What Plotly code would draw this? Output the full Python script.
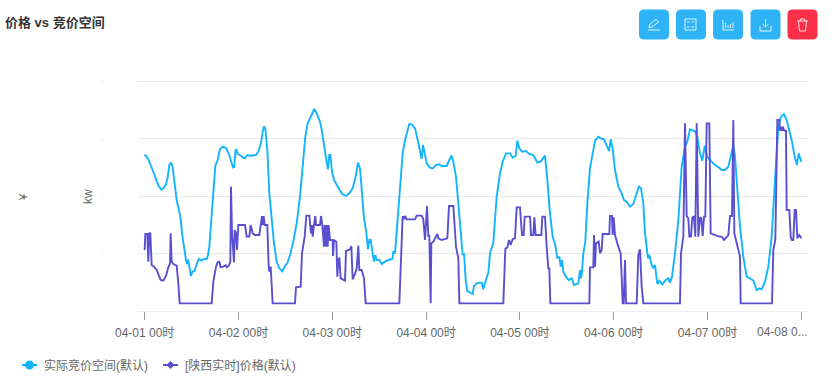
import plotly.graph_objects as go

TITLE = "价格 vs 竞价空间"
SERIES_A = "实际竞价空间(默认)"
SERIES_B = "[陕西实时]价格(默认)"
Y_TITLE_LEFT = "¥"
Y_TITLE_RIGHT = "kw"
DAY_STEPS = 281.4
TICK_DAYS = [0, 1, 2, 3, 4, 5, 6, 7]
TICK_LABELS = ["04-01 00时", "04-02 00时", "04-03 00时", "04-04 00时", "04-05 00时", "04-06 00时", "04-07 00时", ""]
LAST_TICK_LABEL = "04-08 0..."
GRID_VALUES = [0, 172.5, 345, 517.5, 690]
GRID_LABELS = ["", "·", "·", ":", ":"]

# time in steps (one day = 281.4 steps) and values
space_t = [0,6,12,18,24,30,36,42,50,56,64,69,74,80,84,90,96,103,108,112,118,124,127,130,134,139,143,150,156,163,170,178,186,190,194,199,206,212,219,226,234,244,252,259,265,269,272,275,279,286,294,301,308,316,326,334,341,349,354,358,362,368,374,381,388,396,404,413,421,428,436,446,456,466,476,482,489,496,504,509,516,526,531,538,546,550,554,557,562,568,576,584,592,604,614,624,632,640,
           646,652,658,664,670,674,678,684,688,692,696,704,712,721,731,743,746,751,756,764,774,781,788,794,801,811,818,826,831,835,840,846,856,864,874,884,891,906,914,920,926,934,941,948,954,958,963,968,976,984,988,996,1011,1016,1021,1031,1036,1046,1056,1066,1074,1084,1096,1104,1113,1118,1124,1132,1144,1154,1166,1178,1188,1201,1208,1216,1224,1231,1238,1244,1248,1252,1256,1264,1272,1281,1288,1301,1306,
           1309,1312,1316,1322,1328,1336,1344,1351,1361,1368,1378,1386,1393,1398,1404,1411,1421,1431,1438,1446,1456,1466,1476,1483,1489,1496,1501,1506,1510,1514,1521,1526,1531,1534,1538,1544,1553,1561,1571,1576,1582,1591,1601,1611,1621,1628,1636,1651,1658,1666,1673,1680,1688,1698,1711,1722,1731,1741,1751,1758,1766,1771,1778,1786,1796,1806,1816,1826,1836,1844,1851,1861,1871,1881,1891,1901,1909,1918,1926,1934,1942,1950,1957,1962,1970]
space_v = [470,461,453,438,423,408,393,375,364,368,380,401,438,445,431,383,333,301,278,233,188,153,141,155,133,105,118,120,141,156,151,156,156,168,193,263,363,435,453,485,493,489,473,448,431,433,478,486,471,468,461,458,468,466,468,468,478,503,538,554,548,483,353,283,203,148,128,119,135,143,168,208,263,343,453,523,563,578,598,606,593,568,543,493,448,425,468,468,418,393,378,365,351,345,353,368,398,445,
           428,353,278,243,185,213,213,173,148,168,153,153,141,148,153,156,180,173,243,363,473,513,543,561,560,548,518,478,456,498,468,443,430,428,438,440,435,435,453,466,448,403,323,243,168,173,93,60,55,51,75,83,85,65,85,115,173,205,343,413,448,473,473,460,466,511,488,478,480,471,468,445,448,466,393,293,223,203,158,163,133,153,118,103,93,98,78,83,123,
           98,118,173,208,323,428,473,511,523,518,515,493,480,515,488,423,373,353,333,328,313,321,353,375,368,323,233,183,158,168,138,128,138,113,81,91,80,91,98,85,103,173,273,433,493,508,545,539,523,473,451,495,463,451,438,431,423,423,433,463,498,463,363,253,163,103,98,91,63,68,65,88,133,223,393,553,583,591,573,543,508,463,438,473,448]

price_t = [0,2,8,11,14,17,21,28,36,41,48,56,64,70,76,78,81,86,96,101,105,201,206,214,219,224,228,236,243,247,253,257,259,262,265,268,270,274,277,281,301,306,314,318,324,331,344,349,352,354,357,360,368,372,374,378,384,451,454,468,472,480,485,494,499,502,504,508,512,514,526,529,533,538,540,544,546,549,552,556,564,565,568,575,578,581,584,588,601,604,616,620,
           624,631,636,641,644,651,658,663,764,774,778,781,786,811,816,831,836,841,847,851,854,858,860,866,878,881,891,908,913,926,934,941,944,1076,1082,1088,1093,1098,1104,1111,1116,1126,1132,1137,1140,1156,1159,1166,1169,1173,1190,1193,1201,1206,1211,1214,1217,
           1334,1336,1346,1348,1351,1354,1362,1366,1371,1374,1394,1396,1402,1404,1407,1411,1421,1428,1431,1434,1437,1441,1444,1476,1481,1486,1491,1496,1606,1609,1616,1621,1626,1631,1634,1639,1643,1648,1652,1656,1661,1666,1670,1674,1678,1682,1686,1694,1698,1711,1724,1731,1738,1751,1756,1762,1766,1769,1778,1786,1788,1882,1886,1892,1898,1904,1906,1909,1912,1915,1918,1924,1926,1934,1938,1942,1946,1950,1954,1958,1964,1970]
price_v = [183,231,231,148,235,233,138,133,123,108,93,91,105,128,143,233,148,141,136,83,23,23,88,133,146,148,131,133,137,131,137,148,373,233,193,146,243,233,183,258,258,223,223,258,233,228,228,258,285,258,285,258,258,133,118,133,23,23,71,73,173,223,286,286,233,258,223,258,285,258,258,285,258,193,258,193,258,193,258,213,213,165,213,208,103,153,160,98,91,180,185,195,
           95,111,128,196,123,123,98,23,23,285,275,285,275,275,286,286,275,213,315,223,228,23,203,208,231,218,213,218,315,315,193,158,23,23,187,191,213,198,216,218,311,311,228,228,283,283,228,228,281,228,228,283,283,193,128,128,23,
           23,131,131,228,133,203,208,173,183,231,231,285,285,228,281,228,193,173,103,23,23,153,23,23,168,185,73,23,23,173,223,563,285,278,223,223,281,283,223,563,223,281,278,225,283,283,563,563,233,228,223,223,213,228,285,285,573,233,198,163,23,23,183,213,573,573,541,553,541,553,541,541,303,303,223,213,213,303,303,218,228,218]

W, H = 832, 382
L, R, T, B = 138, 808, 75, 311
Y_MAX = (B - T) * 3
CYAN = "#12b4fe"
PURPLE = "#5a4fcf"


def px(x):
    return (x - L) / (R - L)


def py(y):
    return 1 - (y - T) / (B - T)


def path(*parts):
    out = []
    for p in parts:
        if isinstance(p, str):
            out.append(p)
        else:
            out.append(f"{px(p[0]):.5f},{py(p[1]):.5f}")
    return " ".join(out)


def rounded(x0, y0, x1, y1, r, color):
    d = path("M", (x0 + r, y0), "L", (x1 - r, y0), "Q", (x1, y0), (x1, y0 + r), "L", (x1, y1 - r),
             "Q", (x1, y1), (x1 - r, y1), "L", (x0 + r, y1), "Q", (x0, y1), (x0, y1 - r), "L", (x0, y0 + r),
             "Q", (x0, y0), (x0 + r, y0), "Z")
    return dict(type="path", xref="paper", yref="paper", path=d, fillcolor=color, line=dict(width=0), layer="below")


def icon(*parts, width=1):
    return dict(type="path", xref="paper", yref="paper", path=path(*parts),
                line=dict(color="rgba(255,255,255,0.85)", width=width), fillcolor="rgba(0,0,0,0)")


BLUE = "#2fb3f7"
RED = "#fb2f47"
shapes = [rounded(x, 9.5, x + 30, 39.5, 5, c) for x, c in
          [(639, BLUE), (676, BLUE), (713, BLUE), (750.5, BLUE), (787.5, RED)]]
# pencil
shapes += [icon("M", (648, 30), "L", (660, 30)),
           icon("M", (649, 27.5), "L", (650, 24), "L", (656, 19.5), "L", (658.5, 22), "L", (652.5, 26.8), "Z")]
# calculator
shapes += [icon("M", (685, 19), "L", (696, 19), "L", (696, 30), "L", (685, 30), "Z"),
           icon("M", (687, 22), "L", (689.5, 22), "M", (691.5, 22), "L", (694, 22), "M", (687, 27), "L", (689.5, 27),
                "M", (691.5, 27), "L", (694, 27))]
# bars
shapes += [icon("M", (723, 20), "L", (723, 30), "L", (734, 30)),
           icon("M", (725.5, 23), "L", (725.5, 28), "M", (728, 25), "L", (728, 28), "M", (730.5, 24), "L", (730.5, 28),
                "M", (733, 22), "L", (733, 28))]
# download
shapes += [icon("M", (765.5, 19), "L", (765.5, 27), "M", (762.5, 24), "L", (765.5, 27), "L", (768.5, 24)),
           icon("M", (760, 26), "L", (760, 31), "L", (771, 31), "L", (771, 26))]
# bin
shapes += [icon("M", (797, 21), "L", (808, 21), "M", (800, 21), "L", (800.5, 19), "L", (804.5, 19), "L", (805, 21)),
           icon("M", (798.5, 21), "L", (799.5, 31), "L", (805.5, 31), "L", (806.5, 21))]
# legend keys
LEGEND_Y = 365
shapes += [
    dict(type="line", xref="paper", yref="paper", x0=px(22), x1=px(37), y0=py(LEGEND_Y), y1=py(LEGEND_Y),
         line=dict(color=CYAN, width=2)),
    dict(type="circle", xref="paper", yref="paper", x0=px(25), x1=px(34), y0=py(LEGEND_Y - 4.5), y1=py(LEGEND_Y + 4.5),
         fillcolor=CYAN, line=dict(width=0)),
    dict(type="line", xref="paper", yref="paper", x0=px(163), x1=px(178), y0=py(LEGEND_Y), y1=py(LEGEND_Y),
         line=dict(color=PURPLE, width=2)),
    dict(type="path", xref="paper", yref="paper", fillcolor=PURPLE, line=dict(width=0),
         path=path("M", (170.5, LEGEND_Y - 4), "L", (174.5, LEGEND_Y), "L", (170.5, LEGEND_Y + 4), "L", (166.5, LEGEND_Y), "Z")),
]

TEXT = "#666666"
FONT = "Liberation Sans, Noto Sans CJK SC, sans-serif"


def label(text, x, y, anchor="left", size=12, angle=0, color=TEXT):
    return dict(text=text, xref="paper", yref="paper", x=px(x), y=py(y), xanchor=anchor, yanchor="middle",
                showarrow=False, textangle=angle, font=dict(size=size, color=color))


fig = go.Figure()
fig.add_trace(go.Scatter(x=space_t, y=space_v, mode="lines", name=SERIES_A, line=dict(color=CYAN, width=1.9)))
fig.add_trace(go.Scatter(x=price_t, y=price_v, mode="lines", name=SERIES_B, yaxis="y2", line=dict(color=PURPLE, width=1.9)))

fig.update_layout(
    width=W, height=H,
    margin=dict(l=L, r=W - R, t=T, b=H - B, pad=0),
    paper_bgcolor="white", plot_bgcolor="white",
    font=dict(family=FONT, size=12, color=TEXT),
    showlegend=False,
    title=dict(text=f"<b>{TITLE}</b>", x=5 / W, xanchor="left", y=1 - 22 / H, yanchor="middle",
               font=dict(size=13, color="#333333")),
    xaxis=dict(range=[-20, 1990], tickmode="array",
               tickvals=[d * DAY_STEPS for d in TICK_DAYS], ticktext=TICK_LABELS,
               ticks="outside", ticklen=8, tickcolor="#999999", tickwidth=1, showgrid=False,
               showline=True, linecolor="#eeeeee", linewidth=1, zeroline=False, tickangle=0,
               ticklabelstandoff=3, tickfont=dict(size=12, color=TEXT)),
    yaxis=dict(range=[0, Y_MAX], tickmode="array", tickvals=GRID_VALUES, ticktext=GRID_LABELS,
               gridcolor="#e9e9e9", gridwidth=1.2, zeroline=False, showline=False, ticks="",
               ticklabelstandoff=34, tickfont=dict(size=6, color="#888888")),
    yaxis2=dict(range=[0, Y_MAX], overlaying="y", side="left", showgrid=False, showticklabels=False,
                zeroline=False, showline=False, ticks=""),
    shapes=shapes,
    annotations=[
        label(Y_TITLE_LEFT, 23, 197, "center", 11, -90),
        label(Y_TITLE_RIGHT, 88, 197, "center", 12, -90),
        label(LAST_TICK_LABEL, 755, 332),
        label(SERIES_A, 42, LEGEND_Y),
        label(SERIES_B, 183, LEGEND_Y),
    ],
)
fig.write_html("out.html", config=dict(displayModeBar=False),
               post_script="document.body.style.margin='0';document.documentElement.style.overflow='hidden';")
